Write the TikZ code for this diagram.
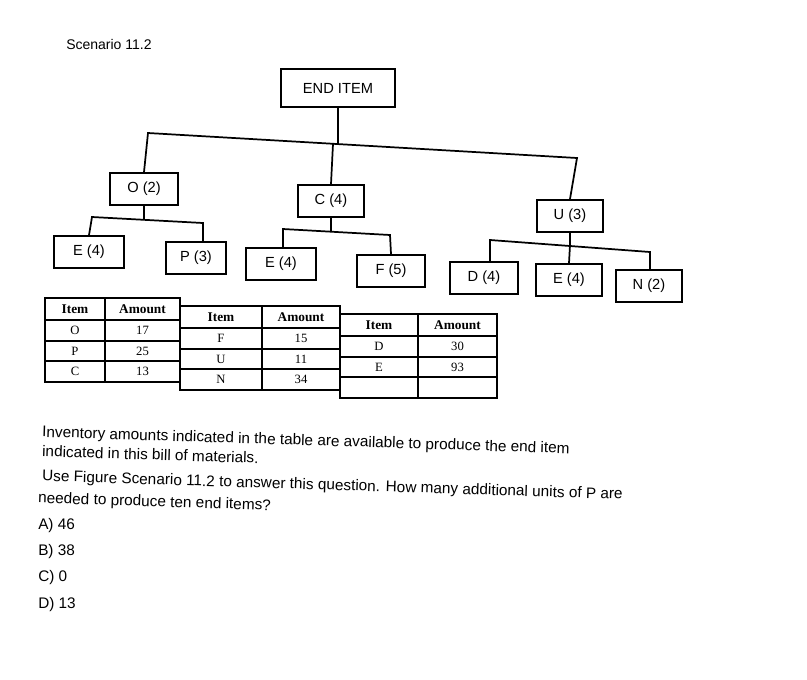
\documentclass[tikz,border=0pt]{standalone}
\usepackage{fontspec}
\setmainfont{Liberation Sans}
\newfontfamily\tabfont{Liberation Serif}
\begin{document}
\begin{tikzpicture}[x=0.75pt,y=-0.75pt,
  bx/.style={draw,line width=1.4pt,minimum height=24pt,inner sep=2pt,font=\fontsize{11}{13}\selectfont,anchor=center},
  ln/.style={line width=1.3pt},
  tl/.style={line width=0.9pt},
  th/.style={font=\tabfont\bfseries\fontsize{10}{12}\selectfont},
  td/.style={font=\tabfont\fontsize{9.5}{11}\selectfont},
  tx/.style={anchor=west,font=\fontsize{11.5}{14}\selectfont,inner sep=0pt}]
\useasboundingbox (0,0) rectangle (807,679);
\fill[white] (0,0) rectangle (807,679);
\node[tx,font=\fontsize{10.5}{13}\selectfont] (sc) at (66,44) {Scenario 11.2};
% boxes
\node[bx,minimum width=86pt,minimum height=28pt] (end) at (338,88) {END ITEM};
\node[bx,minimum width=51pt] (o) at (144,189) {O (2)};
\node[bx,minimum width=49pt] (c) at (331,201) {C (4)};
\node[bx,minimum width=50pt] (u) at (570,216) {U (3)};
\node[bx,minimum width=52pt] (e1) at (89,252) {E (4)};
\node[bx,minimum width=45pt] (p) at (196,258) {P (3)};
\node[bx,minimum width=52pt] (e2) at (281,264) {E (4)};
\node[bx,minimum width=51pt] (f) at (391,271) {F (5)};
\node[bx,minimum width=51pt] (d) at (484,278) {D (4)};
\node[bx,minimum width=49pt] (e3) at (569,280) {E (4)};
\node[bx,minimum width=50pt] (n) at (649,286) {N (2)};
% connectors
\coordinate (b0l) at (148,133); \coordinate (b0r) at (577,158);
\coordinate (b0m) at (338,144);
\draw[ln] (end.south) -- (b0m);
\draw[ln] (o.north) -- (b0l) -- (b0r) -- (u.north);
\draw[ln] (c.north) -- (333,144);
\coordinate (b1m) at (144,219);
\draw[ln] (o.south) -- (b1m);
\draw[ln] (e1.north) -- (92,217) -- (203,223) -- (p.north -| 203,0);
\coordinate (b2m) at (331,232);
\draw[ln] (c.south) -- (b2m);
\draw[ln] (e2.north -| 283,0) -- (283,229) -- (390,235) -- (f.north);
\draw[ln] (u.south) -- (570,246);
\draw[ln] (d.north -| 490,0) -- (490,240) -- (650,252) -- (n.north -| 650,0);
\draw[ln] (570,245) -- (e3.north);
% tables
\foreach \x/\y/\wa/\wb/\ia/\aa/\ib/\ab/\ic/\ac in
 {45/298/60/75/O/17/P/25/C/13, 180/306/82/78/F/15/U/11/N/34, 340/314/78/79/D/30/E/93/ / }{
  \draw[tl] (\x,\y) rectangle ++(\wa+\wb,84);
  \draw[tl] (\x,\y+22) -- ++(\wa+\wb,0) (\x,\y+43) -- ++(\wa+\wb,0) (\x,\y+63) -- ++(\wa+\wb,0);
  \draw[tl] (\x+\wa,\y) -- ++(0,84);
  \node[th] at (\x+\wa/2,\y+11) {Item};
  \node[th] at (\x+\wa+\wb/2,\y+11) {Amount};
  \node[td] at (\x+\wa/2,\y+32.5) {\ia};
  \node[td] at (\x+\wa+\wb/2,\y+32.5) {\aa};
  \node[td] at (\x+\wa/2,\y+53) {\ib};
  \node[td] at (\x+\wa+\wb/2,\y+53) {\ab};
  \node[td] at (\x+\wa/2,\y+73.5) {\ic};
  \node[td] at (\x+\wa+\wb/2,\y+73.5) {\ac};
}
% text
\node[tx,rotate=-1.8] (l1) at (42,433) {Inventory amounts indicated in the table are available to produce the end item};
\node[tx,rotate=-1.8] (l2) at (42,451) {indicated in this bill of materials.};
\node[tx,rotate=-1.8] (l3) at (42,477) {Use Figure Scenario 11.2 to answer this question. How many additional units of P are};
\node[tx,rotate=-1.8] (l4) at (38,499) {needed to produce ten end items?};
\node[tx] (a) at (38,526) {A) 46};
\node[tx] (b) at (38,552) {B) 38};
\node[tx] (c0) at (38,578) {C) 0};
\node[tx] (dd) at (38,605) {D) 13};
\end{tikzpicture}
\end{document}
